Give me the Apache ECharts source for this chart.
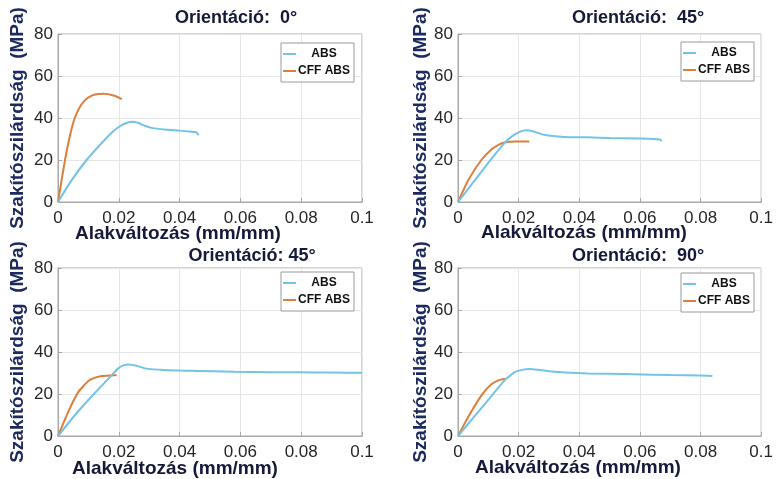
<!DOCTYPE html>
<html><head><meta charset="utf-8">
<script src="https://cdn.jsdelivr.net/npm/echarts@6/dist/echarts.min.js"></script>
<style>html,body{margin:0;padding:0;background:#fff}#c{width:776px;height:479px}</style>
</head><body><div id="c"></div>
<script>
// Panel titles and axis names
const panelTitles = ['Orientáció:  0°', 'Orientáció:  45°', 'Orientáció: 45°', 'Orientáció:  90°'];
const xName = 'Alakváltozás (mm/mm)';
const yName = 'Szakítószilárdság  (MPa)';
const seriesNames = ['ABS', 'CFF ABS'];
const xTicks = [0, 0.02, 0.04, 0.06, 0.08, 0.1];
const yTicks = [0, 20, 40, 60, 80];

// Panel 1 (0°)
const abs0Strain = [0, 0.0045, 0.0094, 0.0143, 0.018, 0.0205, 0.0225, 0.0244, 0.0265, 0.0285, 0.0308, 0.035, 0.0396, 0.043, 0.0456, 0.0462];
const abs0Stress = [0, 10.4, 20, 28, 33.5, 36.2, 37.6, 38.2, 37.6, 36.3, 35.3, 34.5, 34, 33.6, 33.1, 31.8];
const cff0Strain = [0, 0.0023, 0.004, 0.0055, 0.0072, 0.0086, 0.01, 0.0122, 0.0149, 0.018, 0.021];
const cff0Stress = [0, 20, 32, 40, 45.2, 48, 49.8, 51.2, 51.5, 50.8, 49];

// Panel 2 (45°)
const abs45aStrain = [0, 0.0050, 0.0099, 0.0153, 0.018, 0.0205, 0.0224, 0.025, 0.0284, 0.035, 0.0427, 0.05, 0.06, 0.0665, 0.0672];
const abs45aStress = [0, 9.3, 18.5, 28, 31.5, 33.5, 34.2, 33.6, 32, 31, 30.8, 30.5, 30.2, 29.8, 29];
const cff45aStrain = [0, 0.0034, 0.0077, 0.011, 0.0135, 0.0153, 0.019, 0.0235];
const cff45aStress = [0, 10.5, 20, 25, 27.3, 28.3, 28.8, 28.8];

// Panel 3 (45°)
const abs45bStrain = [0, 0.0056, 0.0115, 0.0177, 0.0198, 0.0215, 0.0231, 0.026, 0.0286, 0.035, 0.045, 0.058, 0.07, 0.08, 0.09, 0.1];
const abs45bStress = [0, 10, 19.5, 29, 32.2, 33.6, 34.1, 33.4, 32.2, 31.4, 31, 30.6, 30.4, 30.3, 30.2, 30.1];
const cff45bStrain = [0, 0.0034, 0.0067, 0.01, 0.0122, 0.0144, 0.0193];
const cff45bStress = [0, 11.6, 21, 26.2, 27.8, 28.6, 29];

// Panel 4 (90°)
const abs90Strain = [0, 0.005, 0.01, 0.0155, 0.0187, 0.0215, 0.0237, 0.0319, 0.0427, 0.058, 0.07, 0.08, 0.0839];
const abs90Stress = [0, 8.6, 17.2, 26.7, 30.4, 31.6, 31.9, 30.6, 29.8, 29.4, 29, 28.8, 28.6];
const cff90Strain = [0, 0.0034, 0.0078, 0.011, 0.0135, 0.0155];
const cff90Stress = [0, 9.2, 19.5, 24.6, 26.6, 27.1];

const panelData = [
  [[abs0Strain, abs0Stress], [cff0Strain, cff0Stress]],
  [[abs45aStrain, abs45aStress], [cff45aStrain, cff45aStress]],
  [[abs45bStrain, abs45bStress], [cff45bStrain, cff45bStress]],
  [[abs90Strain, abs90Stress], [cff90Strain, cff90Stress]]
];

const colors = ['#72c3e6', '#dc7f3c'];
const grids = [
  {left: 58, top: 34, width: 304, height: 168},
  {left: 458, top: 34, width: 305, height: 168},
  {left: 58, top: 268, width: 304, height: 168},
  {left: 458, top: 268, width: 305, height: 168}
];
const titlePos = [[236, 9], [638, 9], [252, 247], [638, 247]];
const xNamePos = [[178, 224], [584, 223], [175, 459], [578, 458]];
const yNameGap = [31, 28, 31, 28];
const legendPos = [[281, 43], [681, 42], [281, 272], [681, 273]];

const font = 'Liberation Sans, Arial, sans-serif';
const titles = [];
panelTitles.forEach((t, i) => titles.push({
  text: t, left: titlePos[i][0], top: titlePos[i][1], textAlign: 'center', padding: 0,
  textStyle: {fontSize: 18, fontWeight: 'bold', color: '#16193a', fontFamily: font}
}));
xNamePos.forEach(p => titles.push({
  text: xName, left: p[0], top: p[1], textAlign: 'center', padding: 0,
  textStyle: {fontSize: 19, fontWeight: 'bold', color: '#16193a', fontFamily: font}
}));

const xAxes = [], yAxes = [], series = [], legends = [];
grids.forEach((g, i) => {
  xAxes.push({
    type: 'value', gridIndex: i, min: xTicks[0], max: xTicks[xTicks.length - 1], interval: 0.02,
    axisLine: {show: true, lineStyle: {color: '#a8a8a8'}},
    axisTick: {show: true, inside: true, length: 4, lineStyle: {color: '#a8a8a8'}},
    axisLabel: {fontSize: 17, color: '#262626', margin: 8, fontFamily: font,
      formatter: v => String(Math.round(v * 100) / 100)},
    splitLine: {show: true, lineStyle: {color: '#e6e6e6'}}
  });
  yAxes.push({
    type: 'value', gridIndex: i, min: yTicks[0], max: yTicks[yTicks.length - 1], interval: 20,
    name: yName, nameLocation: 'middle', nameGap: yNameGap[i],
    nameTextStyle: {fontSize: 19, fontWeight: 'bold', color: '#1c2a60', fontFamily: font},
    axisLine: {show: true, lineStyle: {color: '#a8a8a8'}},
    axisTick: {show: true, inside: true, length: 4, lineStyle: {color: '#a8a8a8'}},
    axisLabel: {fontSize: 17, color: '#262626', margin: 5, fontFamily: font},
    splitLine: {show: true, lineStyle: {color: '#e6e6e6'}}
  });
  panelData[i].forEach((d, k) => {
    series.push({
      name: seriesNames[k], type: 'line', xAxisIndex: i, yAxisIndex: i,
      data: d[0].map((x, j) => [x, d[1][j]]),
      smooth: 0.15, showSymbol: false, symbol: 'none',
      lineStyle: {width: 2, color: colors[k]}, itemStyle: {color: colors[k]},
      z: k === 0 ? 3 : 2
    });
  });
  legends.push({
    data: seriesNames, orient: 'vertical', left: legendPos[i][0], top: legendPos[i][1],
    padding: [5, 4, 5, 2], itemGap: 5, itemWidth: 13, itemHeight: 2,
    icon: 'rect', borderColor: '#9a9a9a', borderWidth: 1, backgroundColor: '#fff',
    formatter: n => n === 'ABS' ? '    ABS' : n,
    textStyle: {fontSize: 12, fontWeight: 'bold', color: '#111', fontFamily: font, padding: [0, 0, 0, -3]}
  });
});

grids.forEach(g => { g.show = true; g.borderColor = '#a8a8a8'; g.borderWidth = 1; g.backgroundColor = '#fff'; });

const chart = echarts.init(document.getElementById('c'), null, {renderer: 'canvas'});
chart.setOption({
  animation: false,
  backgroundColor: '#fff',
  title: titles,
  legend: legends,
  grid: grids,
  xAxis: xAxes,
  yAxis: yAxes,
  series: series
});
</script></body></html>
